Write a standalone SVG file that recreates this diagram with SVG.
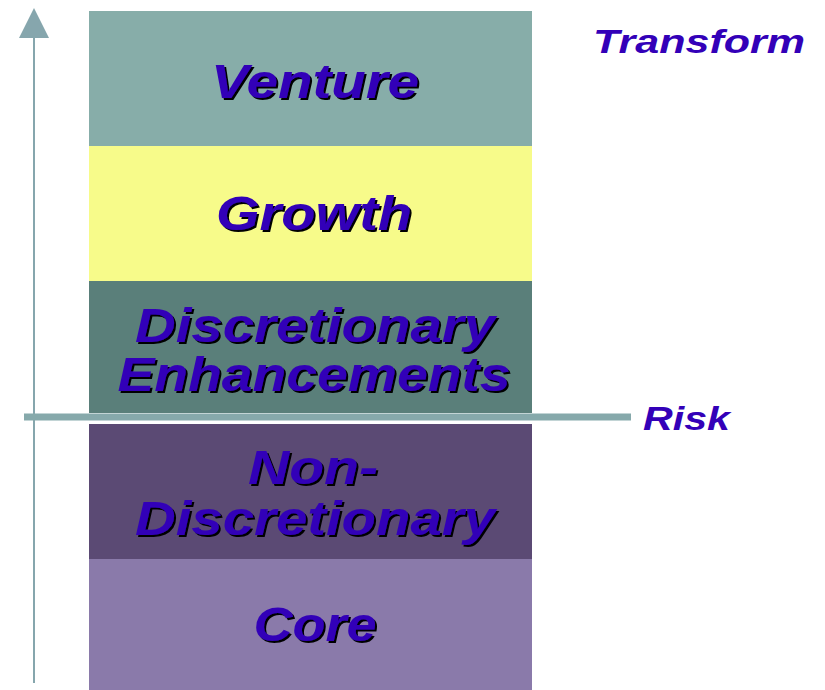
<svg xmlns="http://www.w3.org/2000/svg" width="825" height="690" viewBox="0 0 825 690">
<style>
.t{font-family:"Liberation Sans",Arial,sans-serif;font-weight:bold;font-style:italic;font-size:48px;text-anchor:middle;fill:#3300B8;filter:url(#sh)}
.lab{font-family:"Liberation Sans",Arial,sans-serif;font-weight:bold;font-style:italic;font-size:33px;fill:#3300B8}
</style>
<defs>
<filter id="sh" x="-10%" y="-20%" width="130%" height="150%">
<feOffset in="SourceAlpha" dx="2" dy="2" result="o"/>
<feMerge><feMergeNode in="o"/><feMergeNode in="SourceGraphic"/></feMerge>
</filter>
</defs>
<rect width="825" height="690" fill="#fff"/>
<g id="venture">
<rect x="89" y="11" width="443" height="135" fill="#87ADA9"/>
<text class="t" x="315" y="98" textLength="208" lengthAdjust="spacingAndGlyphs">Venture</text>
</g>
<g id="growth">
<rect x="89" y="146" width="443" height="135" fill="#F7FB8A"/>
<text class="t" x="314" y="230" textLength="196" lengthAdjust="spacingAndGlyphs">Growth</text>
</g>
<g id="discretionary-enhancements">
<rect x="89" y="281" width="443" height="132" fill="#5A7F7A"/>
<text class="t" x="315" y="342" textLength="360" lengthAdjust="spacingAndGlyphs">Discretionary</text>
<text class="t" x="314" y="391" textLength="393" lengthAdjust="spacingAndGlyphs">Enhancements</text>
</g>
<g id="non-discretionary">
<rect x="89" y="424" width="443" height="135" fill="#5B4A74"/>
<text class="t" x="313" y="484" textLength="130" lengthAdjust="spacingAndGlyphs">Non-</text>
<text class="t" x="315" y="535" textLength="360" lengthAdjust="spacingAndGlyphs">Discretionary</text>
</g>
<g id="core">
<rect x="89" y="559" width="443" height="131" fill="#8A7AAA"/>
<text class="t" x="315" y="641" textLength="123" lengthAdjust="spacingAndGlyphs">Core</text>
</g>
<g id="connectors">
<line x1="34" y1="683" x2="34" y2="37" stroke="#86A6AD" stroke-width="2"/>
<polygon points="34,8 19,38 49,38" fill="#86A6AD"/>
<line x1="24" y1="417" x2="631" y2="417" stroke="#86A9AB" stroke-width="7"/>
</g>
<g id="labels">
<text class="lab" x="593" y="53" textLength="212" lengthAdjust="spacingAndGlyphs">Transform</text>
<text class="lab" x="643" y="430" textLength="87" lengthAdjust="spacingAndGlyphs">Risk</text>
</g>
</svg>
